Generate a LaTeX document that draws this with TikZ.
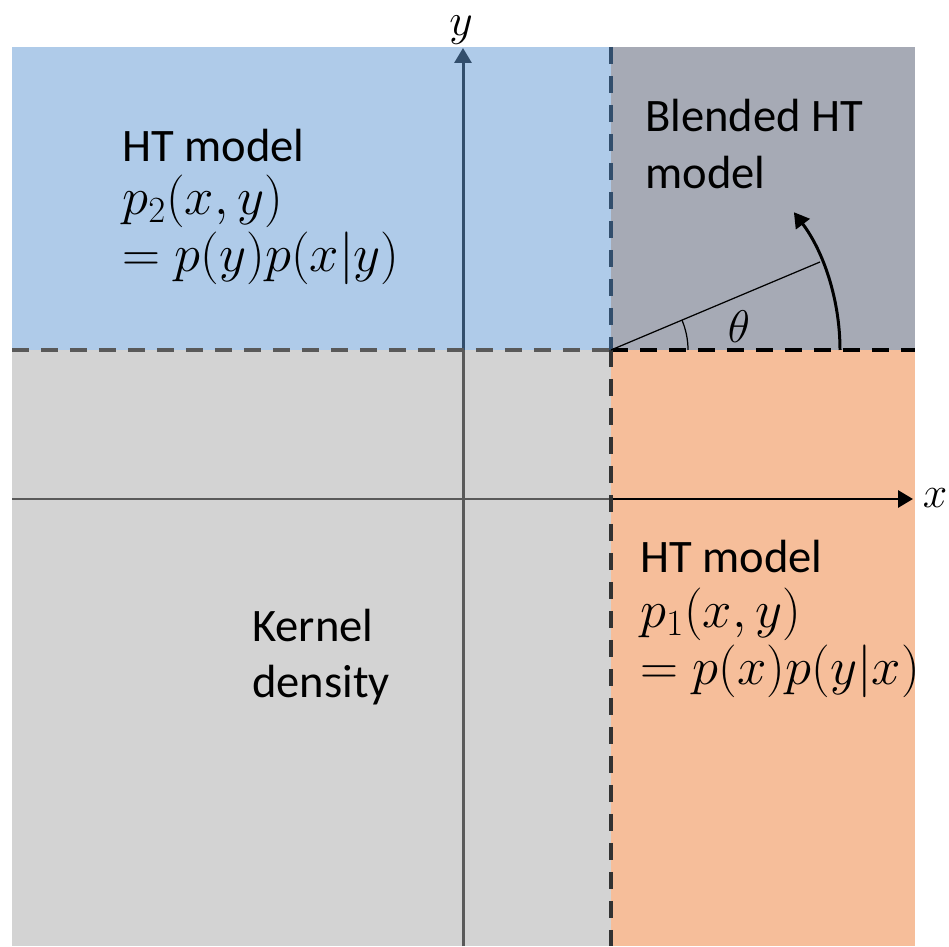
\RequirePackage{fix-cm}
\documentclass[tikz,border=0pt]{standalone}
\usepackage{fontspec}
\setmainfont{Carlito}
\usetikzlibrary{arrows.meta}
\definecolor{cblue}{RGB}{175,203,233}
\definecolor{cgrayd}{RGB}{166,170,181}
\definecolor{cgrayl}{RGB}{211,211,211}
\definecolor{corange}{RGB}{246,190,154}
\definecolor{lineblue}{RGB}{50,78,108}
\definecolor{linegray}{RGB}{89,89,89}
\definecolor{linedark}{RGB}{50,50,50}
\begin{document}
\begin{tikzpicture}[x=0.02cm,y=0.02cm,
  lbl/.style={inner sep=0pt, anchor=base west, font=\fontsize{26.5}{32}\selectfont},
  mlbl/.style={inner sep=0pt, anchor=base west, font=\fontsize{30}{36}\selectfont},
  axlbl/.style={inner sep=0pt, font=\fontsize{27}{32}\selectfont},
  axisline/.style={line width=1.7pt},
  divline/.style={line width=2.2pt, dash pattern=on 0.34cm off 0.24cm},
  tip/.style={-{Triangle[length=0.3cm,width=0.34cm]}}]
\useasboundingbox (0,0) rectangle (949,946);
% regions
\fill[cblue] (12,596) rectangle (611,899);
\fill[cgrayd] (611,596) rectangle (915,899);
\fill[cgrayl] (12,0) rectangle (611,596);
\fill[corange] (611,0) rectangle (915,596);
% coordinates
\coordinate (yb) at (463,0);
\coordinate (ym) at (463,596);
\coordinate (yt) at (463,898);
\coordinate (xl0) at (12,447);
\coordinate (O) at (611,447);
\coordinate (xr) at (913,447);
\coordinate (C) at (611,596);
\coordinate (hl) at (12,596);
\coordinate (hr) at (915,596);
\coordinate (vt) at (611,899);
\coordinate (vb) at (611,0);
\coordinate (ray) at (820,684);
% axes
\draw[axisline, linegray] (yb) -- (ym);
\draw[axisline, lineblue, tip] (ym) -- (yt);
\draw[axisline, linegray] (xl0) -- (O);
\draw[axisline, black, tip] (O) -- (xr);
% dividing dashed lines
\draw[divline, linegray] (hl) -- (C);
\draw[divline, black] (C) -- (hr);
\draw[divline, lineblue] (vt) -- (C);
\draw[divline, linedark] (C) -- (vb);
% angle
\draw[line width=0.7pt] (C) -- (ray);
\draw[line width=0.7pt] (688,596) arc[start angle=0, end angle=22.8, radius=1.54cm];
\draw[line width=1.7pt, tip] (840,596) arc[start angle=0, end angle=37, radius=4.58cm];
\node[axlbl, font=\fontsize{26}{30}\selectfont] (th) at (739,619) {$\theta$};
% axis labels
\node[axlbl, font=\fontsize{25}{30}\selectfont] (xlab) at (935,448) {$x$};
\node[axlbl, font=\fontsize{26}{30}\selectfont] (ylab) at (461,916) {$y$};
% texts
\node[lbl] (tl1) at (122,784) {HT model};
\node[mlbl] (tl2) at (122,731) {$p_2(x,y)$};
\node[mlbl] (tl3) at (122,674) {$=p(y)p(x|y)$};
\node[lbl] (tr1) at (645,814) {Blended HT};
\node[lbl] (tr2) at (645,757) {model};
\node[lbl] (bl1) at (252,304) {Kernel};
\node[lbl] (bl2) at (252,248) {density};
\node[lbl] (br1) at (640,373) {HT model};
\node[mlbl] (br2) at (640,318) {$p_1(x,y)$};
\node[mlbl] (br3) at (640,261) {$=p(x)p(y|x)$};
\end{tikzpicture}
\end{document}
